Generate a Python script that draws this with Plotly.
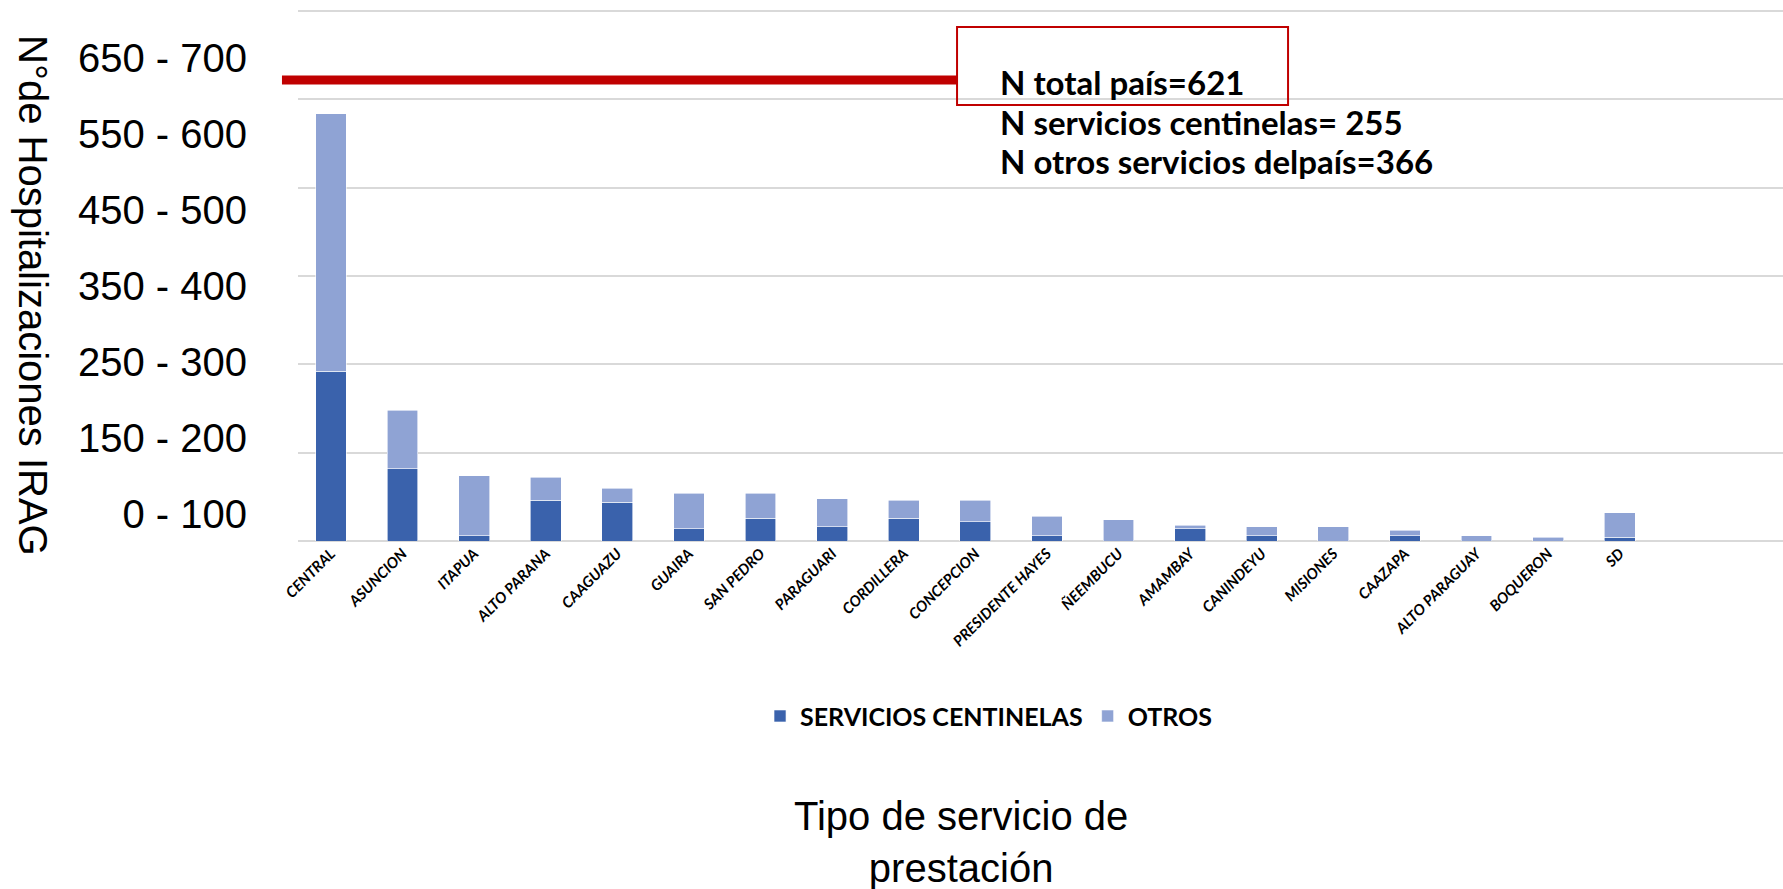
import plotly.graph_objects as go

# Datos
departamentos = [
    'CENTRAL', 'ASUNCION', 'ITAPUA', 'ALTO PARANA', 'CAAGUAZU', 'GUAIRA',
    'SAN PEDRO', 'PARAGUARI', 'CORDILLERA', 'CONCEPCION', 'PRESIDENTE HAYES',
    'ÑEEMBUCU', 'AMAMBAY', 'CANINDEYU', 'MISIONES', 'CAAZAPA',
    'ALTO PARAGUAY', 'BOQUERON', 'SD'
]
centinelas = [96, 41, 3, 23, 22, 7, 13, 8, 13, 11, 3, 0, 7, 3, 0, 3, 0, 0, 2]
otros = [146, 33, 34, 13, 8, 20, 14, 16, 10, 12, 11, 12, 2, 5, 8, 3, 3, 2, 14]

# etiquetas superpuestas del eje y (no coinciden con la grilla)
etiquetas_y = ['0 - 100', '150 - 200', '250 - 300', '350 - 400',
               '450 - 500', '550 - 600', '650 - 700']
posiciones_y = list(range(len(etiquetas_y)))

linea_total = 261  # nivel de la línea roja
textos = ['N total país=621', 'N servicios centinelas= 255',
          'N otros servicios delpaís=366']

AZUL = '#3A62AC'
AZUL_CLARO = '#8FA3D4'
ROJO = '#C00000'
FUENTE_NARROW = 'Liberation Sans Narrow, Liberation Sans, Arial'
FUENTE_GOTHIC = 'Lato, Liberation Sans, Arial'

fig = go.Figure()

fig.add_trace(go.Bar(
    x=departamentos, y=centinelas, name='SERVICIOS CENTINELAS',
    marker=dict(color=AZUL, line=dict(color='white', width=0.6))
))
fig.add_trace(go.Bar(
    x=departamentos, y=otros, name='OTROS',
    marker=dict(color=AZUL_CLARO, line=dict(color='white', width=0.6))
))
# traza vacía para que exista el eje y2 (etiquetas superpuestas)
fig.add_trace(go.Scatter(x=[], y=[], yaxis='y2', showlegend=False))

# Anotaciones del recuadro (una por línea)
anotaciones = []
for i, t in enumerate(textos):
    anotaciones.append(dict(
        text=t, xref='paper', yref='paper',
        x=0.4714, y=0.864 - i * 0.0745, xanchor='left', yanchor='middle',
        showarrow=False,
        font=dict(family=FUENTE_GOTHIC, size=33, weight=700)))

anotaciones += [
    dict(text='N°de Hospitalizaciones IRAG', xref='paper', yref='paper',
         x=-0.178, y=0.462, textangle=90, showarrow=False,
         xanchor='center', yanchor='middle',
         font=dict(family=FUENTE_NARROW, size=40)),
    dict(text='Tipo de servicio de<br>prestación', xref='paper', yref='paper',
         x=0.4465, y=-0.566, showarrow=False,
         xanchor='center', yanchor='middle',
         font=dict(family=FUENTE_NARROW, size=40)),
]

fig.update_layout(
    width=1783, height=889,
    barmode='stack',
    bargap=0.57,
    plot_bgcolor='white',
    paper_bgcolor='white',
    margin=dict(l=298, r=0, t=10, b=348),
    font=dict(family=FUENTE_GOTHIC, color='black'),
    xaxis=dict(
        type='category',
        range=[-0.46, 20.28],
        tickangle=-45,
        tickfont=dict(family=FUENTE_GOTHIC, size=15, style='italic', weight=700),
        showgrid=False, showline=False, ticks='',
    ),
    yaxis=dict(
        range=[0, 300.6], tickvals=[0, 50, 100, 150, 200, 250, 300],
        showticklabels=False,
        gridcolor='#D9D9D9', gridwidth=1.5,
        zeroline=True, zerolinecolor='#D9D9D9', zerolinewidth=1.5,
        showline=False, ticks='',
    ),
    yaxis2=dict(
        overlaying='y', side='left', anchor='x',
        range=[-0.356, 6.636],
        tickvals=posiciones_y, ticktext=etiquetas_y,
        tickfont=dict(family=FUENTE_NARROW, size=40),
        ticklabelstandoff=50,
        showgrid=False, zeroline=False, showline=False, ticks='',
    ),
    legend=dict(
        orientation='h', x=0.465, xanchor='center', y=-0.33, yanchor='middle',
        font=dict(family=FUENTE_GOTHIC, size=25, weight=700),
        traceorder='normal', itemwidth=30,
    ),
    shapes=[
        dict(type='line', xref='paper', yref='y',
             x0=-0.0108, x1=0.4438, y0=linea_total, y1=linea_total,
             line=dict(color=ROJO, width=9)),
        dict(type='rect', xref='paper', yref='paper',
             x0=0.4438, x1=0.6667, y0=0.821, y1=0.968,
             line=dict(color=ROJO, width=2), fillcolor='rgba(0,0,0,0)'),
    ],
    annotations=anotaciones,
)

# sin margen del body para que la figura ocupe toda la ventana
fig.write_html('out.html', config={'displayModeBar': False},
               post_script="document.body.style.margin='0';")
